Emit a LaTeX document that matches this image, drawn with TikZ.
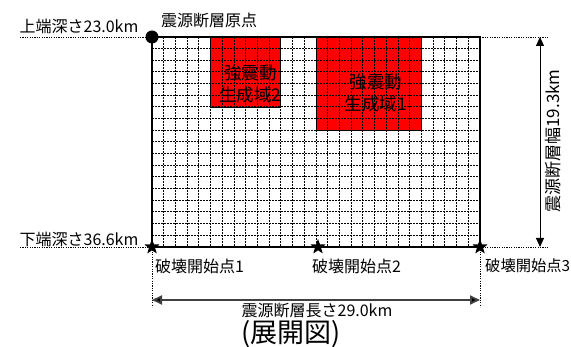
\documentclass[tikz,border=0pt]{standalone}
\usepackage{fontspec}
\setmainfont{Noto Sans CJK JP}
\usetikzlibrary{shapes.geometric,arrows.meta}
\begin{document}
\begin{tikzpicture}[x=1pt,y=-1pt,
  lbl/.style={inner sep=0pt,font=\fontsize{16}{16}\selectfont},
  zone/.style={inner sep=0pt,align=center,font=\fontsize{17.5}{22}\selectfont},
  gridline/.style={line width=1pt,dash pattern=on 1.6pt off 1.4pt},
  extline/.style={line width=0.9pt,dash pattern=on 1.2pt off 1.2pt},
  border/.style={line width=1.4pt},
  redzone/.style={fill=red,draw=black,line width=0.9pt},
  starmark/.style={star,star points=5,star point ratio=2.4,fill=black,inner sep=0pt,minimum size=16pt},
  dimarrow/.style={line width=1pt,{Triangle[length=9pt,width=8pt]}-{Triangle[length=9pt,width=8pt]}}
]
\useasboundingbox (0,0) rectangle (571,347);
\def\gx{11.7143}
\def\gy{11.6667}
% red zones
\filldraw[redzone] ({152+5*\gx},37) rectangle ({152+11*\gx},{37+6*\gy});
\filldraw[redzone] ({152+14*\gx},37) rectangle ({152+23*\gx},{37+8*\gy});
% grid
\foreach \i in {1,...,27} \draw[gridline] ({152+\i*\gx},37) -- ({152+\i*\gx},247);
\foreach \j in {1,...,17} \draw[gridline] (152,{37+\j*\gy}) -- (480,{37+\j*\gy});
% red zone borders again
\draw[line width=0.9pt] ({152+5*\gx},37) rectangle ({152+11*\gx},{37+6*\gy});
\draw[line width=0.9pt] ({152+14*\gx},37) rectangle ({152+23*\gx},{37+8*\gy});
% fault border
\coordinate (tl) at (152,37);
\coordinate (tr) at (480,37);
\coordinate (bl) at (152,247);
\coordinate (br) at (480,247);
\draw[border] (tl) rectangle (br);
% extension lines
\coordinate (tle) at (20,37);
\coordinate (ble) at (20,247);
\coordinate (tre) at (548,37);
\coordinate (bre) at (548,247);
\coordinate (bld) at (152,307);
\coordinate (brd) at (480,307);
\draw[extline] (tle) -- (tl);
\draw[extline] (ble) -- (bl);
\draw[extline] (tr) -- (tre);
\draw[extline] (br) -- (bre);
\draw[extline] (bl) -- (bld);
\draw[extline] (br) -- (brd);
% origin and stars
\fill (tl) circle (6.5);
\node[starmark] (s1) at (152,247) {};
\node[starmark] (s2) at (318,247) {};
\node[starmark] (s3) at (480,247) {};
% dimension arrows
\coordinate (va) at (540,37);
\coordinate (vb) at (540,247);
\draw[dimarrow] (va) -- (vb);
\coordinate (ha) at (152,300);
\coordinate (hb) at (480,300);
\draw[draw=black!75,line width=1.8pt,{Triangle[length=10pt,width=9pt,fill=black]}-{Triangle[length=10pt,width=9pt,fill=black]}] (ha) -- (hb);
% labels
\node[lbl] (top) at (79,26) {上端深さ23.0km};
\node[lbl] (bot) at (79,239) {下端深さ36.6km};
\node[lbl] (orig) at (209,20) {震源断層原点};
\node[lbl,anchor=west] (p1) at (155,266) {破壊開始点1};
\node[lbl,anchor=west] (p2) at (312,266) {破壊開始点2};
\node[lbl,anchor=west,font=\fontsize{15.3}{15.3}\selectfont] (p3) at (485,266) {破壊開始点3};
\node[lbl] (len) at (317,311) {震源断層長さ29.0km};
\node[lbl,rotate=90,font=\fontsize{17}{17}\selectfont] (wid) at (553,141) {震源断層幅19.3km};
\node[inner sep=0pt,font=\fontsize{27}{27}\selectfont] (title) at (291,334.5) {(展開図)};
\node[zone] (z2) at (250.5,84) {強震動\\生成域2};
\node[zone] (z1) at (376,93) {強震動\\生成域1};
\end{tikzpicture}
\end{document}
